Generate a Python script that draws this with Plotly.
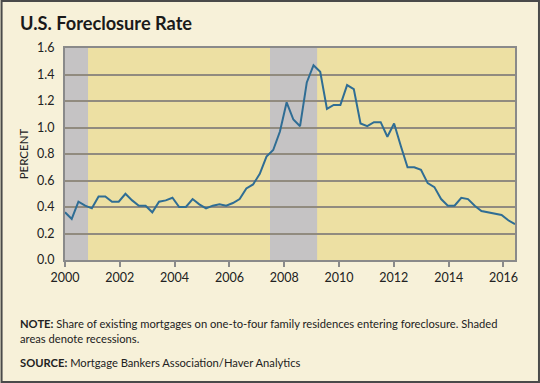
import plotly.graph_objects as go

# Quarterly foreclosure start rate (percent), 2000Q1 onward
rate = [0.36, 0.31, 0.44, 0.41, 0.39, 0.48, 0.48, 0.44, 0.44, 0.50,
        0.45, 0.41, 0.41, 0.36, 0.44, 0.45, 0.47, 0.40, 0.40, 0.46,
        0.42, 0.39, 0.41, 0.42, 0.41, 0.43, 0.46, 0.54, 0.57, 0.65,
        0.78, 0.83, 0.97, 1.19, 1.06, 1.01, 1.34, 1.47, 1.42, 1.14,
        1.17, 1.17, 1.32, 1.29, 1.03, 1.01, 1.04, 1.04, 0.93, 1.03,
        0.86, 0.70, 0.70, 0.68, 0.58, 0.55, 0.46, 0.41, 0.41, 0.47,
        0.46, 0.41, 0.37, 0.36, 0.35, 0.34, 0.30, 0.27]
quarter_index = list(range(len(rate)))

year_ticks = [2000, 2002, 2004, 2006, 2008, 2010, 2012, 2014, 2016]
year_labels = [str(y) for y in year_ticks]
y_ticks = [0.0, 0.2, 0.4, 0.6, 0.8, 1.0, 1.2, 1.4, 1.6]
y_labels = ["%.1f" % v for v in y_ticks]

# recession shading (in years, as on the tick axis)
rec_start = [2000.0, 2007.48]
rec_end = [2000.84, 2009.2]

title = "U.S. Foreclosure Rate"
note = ("<b>NOTE:</b> Share of existing mortgages on one-to-four family residences entering foreclosure. Shaded"
        "<br>areas denote recessions.")
source = "<b>SOURCE:</b> Mortgage Bankers Association/Haver Analytics"

FONT = "Lato"
W, H = 540, 383
ML, MR, MT, MB = 64.5, 25, 48, 123
PW, PH = W - ML - MR, H - MT - MB

fig = go.Figure()
fig.add_trace(go.Scatter(x=quarter_index, y=rate, mode="lines",
                         line=dict(color="#2f6d94", width=2),
                         xaxis="x", yaxis="y", hoverinfo="skip"))
# invisible trace on the year axis so it is drawn
fig.add_trace(go.Scatter(x=[2000, 2016], y=[None, None], xaxis="x2", yaxis="y",
                         mode="lines", showlegend=False))

for s, e in zip(rec_start, rec_end):
    fig.add_shape(type="rect", xref="x2", yref="y", x0=s, x1=e, y0=0, y1=1.6,
                  fillcolor="#c5c3c4", line=dict(width=0), layer="below")

fig.update_layout(
    width=W, height=H,
    margin=dict(l=ML, r=MR, t=MT, b=MB, autoexpand=False),
    paper_bgcolor="#f7f1d9",
    plot_bgcolor="#ede0a3",
    showlegend=False,
    font=dict(family=FONT, size=12, color="#222222"),
    xaxis=dict(range=[0, len(rate) - 1], showticklabels=False, ticks="",
               showgrid=False, zeroline=False, showline=False, fixedrange=True),
    xaxis2=dict(range=[2000, 2016.42], overlaying="x", side="bottom",
                tickvals=year_ticks, ticktext=year_labels,
                ticks="outside", ticklen=5, tickwidth=2, tickcolor="#8a8a8a",
                showgrid=False, zeroline=False,
                showline=True, linecolor="#8a8a8a", linewidth=2, mirror=True,
                tickfont=dict(family=FONT, size=12.5, color="#222222")),
    yaxis=dict(range=[0, 1.6], tickvals=y_ticks, ticktext=y_labels,
               ticks="", showgrid=True, gridcolor="#918b7f", gridwidth=1.5,
               zeroline=False, showline=True, linecolor="#8a8a8a", linewidth=2,
               mirror=True, ticklabelstandoff=6,
               title=dict(text="PERCENT", font=dict(family=FONT, size=11.5, color="#222222"),
                          standoff=6),
               tickfont=dict(family=FONT, size=12.5, color="#222222")),
)

def px_x(p):
    return (p - ML) / PW

def px_y(p):
    return (H - MB - p) / PH

fig.add_annotation(text="<b>" + title + "</b>", xref="paper", yref="paper",
                   x=px_x(17), y=px_y(22.5), xanchor="left", yanchor="middle",
                   showarrow=False, font=dict(family=FONT, size=18.2, color="#1a1a1a"))
fig.add_annotation(text=note, xref="paper", yref="paper", x=px_x(17), y=px_y(315),
                   xanchor="left", yanchor="top", align="left", showarrow=False,
                   font=dict(family=FONT, size=11.2, color="#222222"))
fig.add_annotation(text=source, xref="paper", yref="paper", x=px_x(17), y=px_y(354),
                   xanchor="left", yanchor="top", align="left", showarrow=False,
                   font=dict(family=FONT, size=11.2, color="#222222"))
# outer border
fig.add_shape(type="rect", xref="paper", yref="paper",
              x0=px_x(1), x1=px_x(W - 1), y0=px_y(H - 1), y1=px_y(1),
              line=dict(color="#4a4a4a", width=2), fillcolor="rgba(0,0,0,0)", layer="above")

fig.write_html("out.html", config={"displayModeBar": False},
               post_script="document.body.style.margin='0';")
